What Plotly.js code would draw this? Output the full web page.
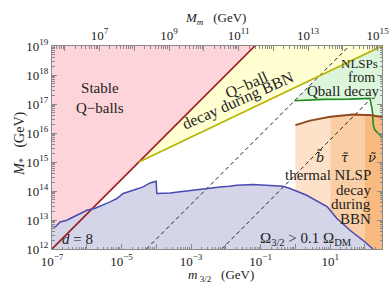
<!DOCTYPE html>
<html><head><meta charset="utf-8">
<script src="https://cdn.plot.ly/plotly-3.0.1.min.js"></script>
<style>html,body{margin:0;padding:0;background:#fff}#chart{width:392px;height:296px}</style>
</head><body><div id="chart"></div>
<script>
// All values are log10 of GeV
const xRangeLog = [-7, 2.49];
const yRangeLog = [12, 19];
const topAxisOffsetLog = 12.635; // log10(M_m) - log10(m_3/2)

const redLineLogM32 = [-7, -1.167];
const redLineLogMs  = [12, 19];
const yellowLineLogM32 = [-4.5, 2.49];
const yellowLineLogMs  = [15, 19];
const dashed1LogM32 = [-4.285, 1.548];
const dashed1LogMs  = [12, 19];
const dashed2LogM32 = [-2.118, 2.144];
const dashed2LogMs  = [12, 17.15];

const greenLogM32 = [-0.027, 0.802, 1.569, 2.144, 2.193, 2.221, 2.239, 2.287, 2.382, 2.49];
const greenLogMs  = [17.11, 17.159, 17.169, 17.193, 16.903, 16.675, 16.271, 16.098, 15.985, 15.867];

const brownLogM32 = [0, 0.42, 1, 1.655, 2, 2.144, 2.49];
const brownLogMs  = [16.27, 16.427, 16.56, 16.634, 16.625, 16.617, 16.548];
const bandEdgesLog = [0, 1, 2, 2.49];
const bandLabels = ["b\u0303", "τ\u0303", "ν\u0303"];

const blueLogM32 = [-7, -6.908, -6.764, -6.572, -6.388, -6.187, -5.997, -5.759, -5.529, -5.328, -5.135, -4.954,
  -4.667, -4.379, -4.178, -4.006, -3.986, -3.805, -3.603, -3.374, -3.124, -2.9, -2.655, -2.4, -2.167, -1.9, -1.687,
  -1.218, -0.73, -0.356, -0.155, -0.017, 0.325, 0.92, 1.187, 1.569, 1.943, 2.23];
const blueLogMs = [12.784, 12.76, 12.932, 12.991, 13.105, 13.233, 13.336, 13.405, 13.509, 13.623, 13.74, 13.913,
  14.027, 14.141, 14.279, 14.338, 13.913, 13.913, 13.934, 13.969, 14.003, 14.03, 14.086, 14.1, 14.141, 14.16, 14.2,
  14.224, 14.2, 14.165, 14.086, 14.027, 13.854, 13.45, 13.06, 12.646, 12.3, 12.0];

const P = v => v.map(e => Math.pow(10, e));
function interp(xs, ys, x) {
  for (let i = 0; i < xs.length - 1; i++) {
    if (x >= xs[i] && x <= xs[i+1]) return ys[i] + (ys[i+1]-ys[i])*(x-xs[i])/(xs[i+1]-xs[i]);
  }
  return x < xs[0] ? ys[0] : ys[ys.length-1];
}
function intersect(ax, ay, bx, by) {
  const sa = (ay[1]-ay[0])/(ax[1]-ax[0]), sb = (by[1]-by[0])/(bx[1]-bx[0]);
  const x = (by[0] - sb*bx[0] - ay[0] + sa*ax[0])/(sa - sb);
  return [x, ay[0] + sa*(x-ax[0])];
}

const traces = [];
function poly(xl, yl, color) {
  traces.push({x: P(xl), y: P(yl), mode: 'lines', fill: 'toself', fillcolor: color,
    line: {width: 0, color: color}, hoverinfo: 'skip', showlegend: false});
}
function line(xl, yl, color, width, dash) {
  traces.push({x: P(xl), y: P(yl), mode: 'lines', line: {width: width, color: color, dash: dash || 'solid'},
    hoverinfo: 'skip', showlegend: false});
}

poly([xRangeLog[0], xRangeLog[0], redLineLogM32[1], redLineLogM32[0]],
     [yRangeLog[0], yRangeLog[1], redLineLogMs[1], redLineLogMs[0]], '#FDD4D9');
poly([yellowLineLogM32[0], redLineLogM32[1], yellowLineLogM32[1]],
     [yellowLineLogMs[0], 19, yellowLineLogMs[1]], '#FFFFD2');
const ip = intersect(dashed1LogM32, dashed1LogMs, yellowLineLogM32, yellowLineLogMs);
poly([greenLogM32[0], ip[0], yellowLineLogM32[1]].concat(greenLogM32.slice().reverse()),
     [greenLogMs[0], ip[1], yellowLineLogMs[1]].concat(greenLogMs.slice().reverse()), '#DCF6DC');
const bandColors = ['#FDE2C9', '#FBCFA6', '#F8BA7E'];
for (let b = 0; b < 3; b++) {
  const a = bandEdgesLog[b], c = bandEdgesLog[b+1];
  const xs = [a], ys = [interp(brownLogM32, brownLogMs, a)];
  brownLogM32.forEach((x, i) => { if (x > a && x < c) { xs.push(x); ys.push(brownLogMs[i]); } });
  xs.push(c); ys.push(interp(brownLogM32, brownLogMs, c));
  poly([a].concat(xs, [c]), [12].concat(ys, [12]), bandColors[b]);
}
poly(blueLogM32.concat([blueLogM32[blueLogM32.length-1], blueLogM32[0]]),
     blueLogMs.concat([12, 12]), '#D4D5E9');

line(dashed1LogM32, dashed1LogMs, '#222', 1, '4px,3px');
line(dashed2LogM32, dashed2LogMs, '#222', 1, '4px,3px');
line(redLineLogM32, redLineLogMs, '#9A1A1A', 1.6);
line(yellowLineLogM32, yellowLineLogMs, '#B8B200', 1.6);
line(greenLogM32, greenLogMs, '#1F8B1F', 1.6);
line(brownLogM32, brownLogMs, '#8E4A1C', 2);
line(blueLogM32, blueLogMs, '#4A4AB2', 1.5);
['x2', 'x3', 'x4'].forEach(ax => traces.push({x: [ax === 'x2' || ax === 'x4' ? 1e10 : 1e-3], y: [1e15], xaxis: ax,
  mode: 'markers', marker: {opacity: 0}, hoverinfo: 'skip', showlegend: false}));

const sup = e => '10<sup>' + (e < 0 ? '−' + (-e) : e) + '</sup>';
const xLab = [-7, -5, -3, -1, 1];
const xAll = [-7, -6, -5, -4, -3, -2, -1, 0, 1, 2];
const yLab = [12, 13, 14, 15, 16, 17, 18, 19];
const tLab = [7, 9, 11, 13, 15];
const tAll = [6, 7, 8, 9, 10, 11, 12, 13, 14, 15];

const frame = '#8a8a8a';
const serif = 'Liberation Serif, DejaVu Serif, serif';
const tickFont = {family: serif, size: 13, color: '#222'};
const axBase = {type: 'log', showgrid: false, zeroline: false, showline: true, linecolor: frame, linewidth: 1,
  ticks: 'inside', ticklen: 5, tickcolor: frame, tickwidth: 1, tickfont: tickFont};
const minorTicks = {ticks: 'inside', ticklen: 2.5, tickcolor: frame, dtick: 'D1', showgrid: false};

const txt = (x, y, t, size, extra) => Object.assign({x: x, y: y, xref: 'x', yref: 'y', text: t, showarrow: false,
  font: {family: serif, size: size, color: '#222'}}, extra || {});
const pap = (x, y, t, size, extra) => Object.assign({x: x, y: y, xref: 'paper', yref: 'paper', text: t, showarrow: false,
  font: {family: serif, size: size, color: '#222'}}, extra || {});

const bandX = [0.708, 1.427, 2.203];
const annotations = [
  txt(-5.62, 17.21, 'Stable<br>Q−balls', 15),
  txt(-1.40, 17.68, 'Q−ball', 16, {textangle: -24}),
  txt(-1.66, 17.10, 'decay during BBN', 16, {textangle: -24}),
  txt(1.83, 18.39, 'NLSPs', 13),
  txt(1.887, 17.93, 'from', 14),
  txt(1.37, 17.45, 'Qball decay', 15),
  txt(2.232, 14.55, 'thermal NLSP', 15, {xanchor: 'right'}),
  txt(2.232, 14.03, 'decay', 15, {xanchor: 'right'}),
  txt(2.232, 13.55, 'during', 15, {xanchor: 'right'}),
  txt(2.232, 13.05, 'BBN', 15, {xanchor: 'right'}),
  txt(0.305, 12.35, 'Ω<sub>3/2</sub> > 0.1 Ω<sub>DM</sub>', 15),
  txt(-6.28, 12.35, '<i>d</i> = 8', 15),
  pap(0.494, 1.185, '<i>M</i><sub><i>m</i></sub>   (GeV)', 13),
  pap(0.512, -0.182, '<i>m</i><sub> 3/2</sub>   (GeV)', 13),
  pap(-0.13, 0.517, '<i>M</i><sub>*</sub>   (GeV)', 14, {textangle: -90})
];
bandLabels.forEach((l, i) => {
  annotations.push(Object.assign(txt(bandX[i], 15.17, '<i>' + l + '</i>', 14),
    {font: {family: 'DejaVu Serif', size: 13, color: '#222'}}));
});

const layout = {
  width: 392, height: 296,
  margin: {l: 52, r: 10, t: 46, b: 47},
  paper_bgcolor: '#fff', plot_bgcolor: '#fff',
  showlegend: false,
  font: tickFont,
  xaxis: Object.assign({}, axBase, {range: xRangeLog, tickmode: 'array', tickvals: P(xLab), ticktext: xLab.map(sup), mirror: false}),
  xaxis3: Object.assign({}, axBase, {range: xRangeLog, overlaying: 'x', side: 'bottom', anchor: 'y',
    tickmode: 'array', tickvals: P(xAll), showticklabels: false, minor: minorTicks}),
  xaxis2: Object.assign({}, axBase, {range: [xRangeLog[0] + topAxisOffsetLog, xRangeLog[1] + topAxisOffsetLog],
    overlaying: 'x', side: 'top', anchor: 'y', tickmode: 'array', tickvals: P(tLab), ticktext: tLab.map(sup)}),
  xaxis4: Object.assign({}, axBase, {range: [xRangeLog[0] + topAxisOffsetLog, xRangeLog[1] + topAxisOffsetLog],
    overlaying: 'x', side: 'top', anchor: 'y', tickmode: 'array', tickvals: P(tAll), showticklabels: false, minor: minorTicks}),
  yaxis: Object.assign({}, axBase, {range: yRangeLog, tickmode: 'array', tickvals: P(yLab), ticktext: yLab.map(sup),
    mirror: 'ticks', minor: minorTicks}),
  annotations: annotations
};
Plotly.newPlot('chart', traces, layout, {staticPlot: true, displayModeBar: false});
</script></body></html>
